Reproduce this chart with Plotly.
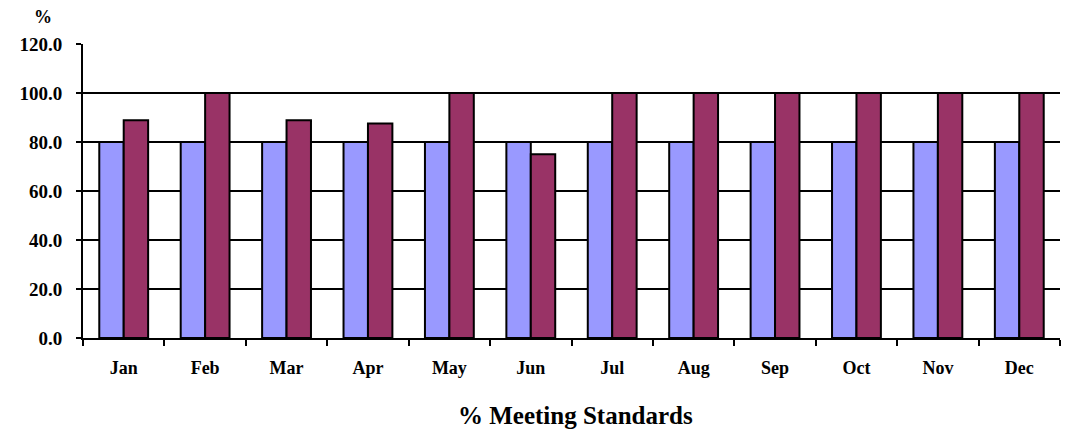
import plotly.graph_objects as go

months = ["Jan", "Feb", "Mar", "Apr", "May", "Jun",
          "Jul", "Aug", "Sep", "Oct", "Nov", "Dec"]
target = [80, 80, 80, 80, 80, 80, 80, 80, 80, 80, 80, 80]
actual = [88.9, 100, 88.9, 87.5, 100, 75, 100, 100, 100, 100, 100, 100]

font_family = "Liberation Serif, Times New Roman, serif"

fig = go.Figure()

fig.add_trace(
    go.Bar(
        name="Target",
        x=months,
        y=target,
        marker=dict(color="#9999FF", line=dict(color="black", width=2)),
    )
)
fig.add_trace(
    go.Bar(
        name="Actual",
        x=months,
        y=actual,
        marker=dict(color="#993366", line=dict(color="black", width=2)),
    )
)

fig.update_layout(
    width=1066,
    height=432,
    barmode="group",
    bargap=0.4,
    bargroupgap=0,
    showlegend=False,
    plot_bgcolor="white",
    paper_bgcolor="white",
    margin=dict(l=83, r=6, t=44, b=94),
    font=dict(family=font_family, color="black"),
    xaxis=dict(
        showline=True,
        linecolor="black",
        linewidth=2,
        ticks="outside",
        tickson="boundaries",
        ticklen=6,
        tickwidth=2,
        tickcolor="black",
        ticklabelstandoff=12,
        tickfont=dict(size=18, family=font_family, weight="bold"),
        showgrid=False,
    ),
    yaxis=dict(
        range=[0, 120],
        tick0=0,
        dtick=20,
        tickformat=".1f",
        showline=True,
        linecolor="black",
        linewidth=2,
        ticks="outside",
        ticklen=5,
        tickwidth=2,
        tickcolor="black",
        ticklabelstandoff=10,
        tickfont=dict(size=19, family=font_family, weight="bold"),
        showgrid=True,
        gridcolor="black",
        gridwidth=2,
        zeroline=False,
    ),
    annotations=[
        dict(
            text="% Meeting Standards",
            xref="paper",
            yref="paper",
            x=0.504,
            y=-0.262,
            xanchor="center",
            yanchor="middle",
            showarrow=False,
            font=dict(size=25, family=font_family, weight="bold"),
        ),
        dict(
            text="%",
            xref="paper",
            yref="paper",
            x=-0.041,
            y=1.092,
            xanchor="center",
            yanchor="middle",
            showarrow=False,
            font=dict(size=18, family=font_family, weight="bold"),
        ),
    ],
)

fig.write_html(
    "out.html",
    config={"displayModeBar": False},
    post_script="document.body.style.margin='0';",
)
